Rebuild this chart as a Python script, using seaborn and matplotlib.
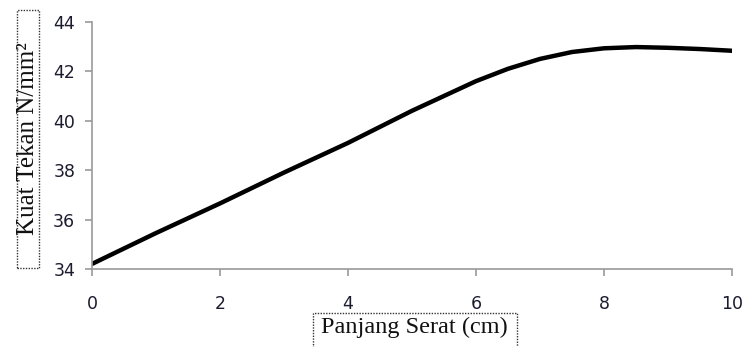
import numpy as np
import pandas as pd
import matplotlib
matplotlib.use("Agg")
import matplotlib.pyplot as plt
import seaborn as sns
from matplotlib.patches import Rectangle

# --- dati ---
panjang = [0, 1, 2, 3, 4, 5, 6, 6.5, 7, 7.5, 8, 8.5, 9, 9.5, 10]
kuat_tekan = [34.2, 35.45, 36.65, 37.9, 39.1, 40.4, 41.6, 42.1, 42.5, 42.78,
              42.93, 42.98, 42.95, 42.9, 42.83]
x_ticks = [0, 2, 4, 6, 8, 10]
y_ticks = [34, 36, 38, 40, 42, 44]

df = pd.DataFrame({"panjang": panjang, "kuat": kuat_tekan})

sns.set_style("white")
plt.rcParams["font.family"] = ["DejaVu Sans"]

fig = plt.figure(figsize=(7.47, 3.47), dpi=100)
ax = fig.add_axes([0.123, 0.225, 0.857, 0.712])

sns.lineplot(data=df, x="panjang", y="kuat", color="black", linewidth=3.2, ax=ax)

ax.set_xlim(0, 10)
ax.set_ylim(34, 44)
ax.set_xticks(x_ticks)
ax.set_yticks(y_ticks)
ax.set_xlabel("")
ax.set_ylabel("")

for s in ["top", "right"]:
    ax.spines[s].set_visible(False)
for s in ["left", "bottom"]:
    ax.spines[s].set_color("#9a9a9a")
    ax.spines[s].set_linewidth(1.2)

ax.tick_params(axis="both", which="major", direction="out", length=5, width=1.2,
               color="#9a9a9a", labelsize=12.5, labelcolor="#1c1c30")
ax.tick_params(axis="x", pad=14)
ax.tick_params(axis="y", pad=7, left=True)
ax.tick_params(axis="x", bottom=True)
ax.grid(False)

# --- etichette assi con riquadro tratteggiato ---
fig.text(28 / 747, 1 - 139 / 347, "Kuat Tekan N/mm²", rotation=90,
         ha="center", va="center", fontsize=18, family="Liberation Serif",
         color="#111111")
fig.patches.append(Rectangle((17 / 747, 1 - 268 / 347), 22 / 747, 258 / 347,
                             transform=fig.transFigure, fill=False,
                             linestyle=(0, (1, 1)), linewidth=1.0, edgecolor="#333333"))

fig.text(414 / 747, 1 - 327 / 347, "Panjang Serat (cm)",
         ha="center", va="center", fontsize=17.5, family="Liberation Serif",
         color="#111111")
fig.patches.append(Rectangle((313 / 747, -0.05), 204 / 747, (1 - 313 / 347) + 0.05,
                             transform=fig.transFigure, fill=False,
                             linestyle=(0, (1, 1)), linewidth=1.0, edgecolor="#333333"))

fig.savefig("out.png", dpi=100)
